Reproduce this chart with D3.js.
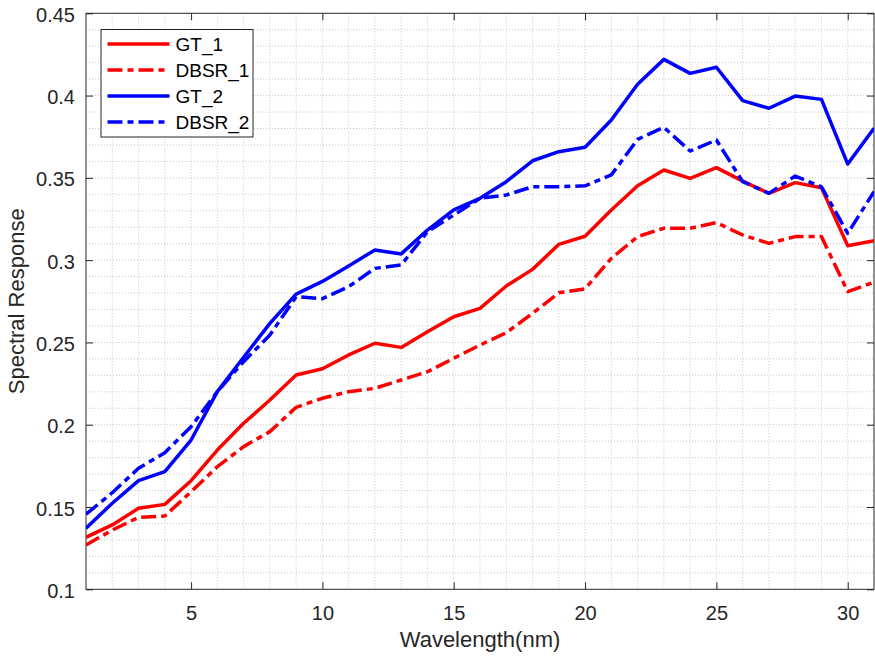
<!DOCTYPE html>
<html>
<head>
<meta charset="utf-8">
<script src="https://cdn.jsdelivr.net/npm/d3@7"></script>
<style>
    body { margin: 0; background: #fff; }
    svg { display: block; font-family: "Liberation Sans", Arial, Helvetica, sans-serif; }
</style>
</head>
<body>
<svg id="chart" width="875" height="656"></svg>
<script>
const wavelength = [1, 2, 3, 4, 5, 6, 7, 8, 9, 10, 11, 12, 13, 14, 15, 16,
    17, 18, 19, 20, 21, 22, 23, 24, 25, 26, 27, 28, 29, 30, 31];

const gt1 = [0.1316, 0.1391, 0.1492, 0.1516, 0.1660, 0.1846, 0.2009, 0.2150, 0.2302, 0.2340,
    0.2424, 0.2495, 0.2470, 0.2565, 0.2656, 0.2707, 0.2843, 0.2944, 0.3096, 0.3145,
    0.3305, 0.3452, 0.3548, 0.3497, 0.3562, 0.3480, 0.3406, 0.3471, 0.3440, 0.3088, 0.3118];

const dbsr1 = [0.1269, 0.1360, 0.1437, 0.1445, 0.1593, 0.1745, 0.1867, 0.1958, 0.2106, 0.2161,
    0.2201, 0.2221, 0.2272, 0.2322, 0.2404, 0.2484, 0.2559, 0.2677, 0.2802, 0.2826,
    0.3011, 0.3143, 0.3194, 0.3194, 0.3228, 0.3153, 0.3102, 0.3143, 0.3143, 0.2809, 0.2866];

const gt2 = [0.1371, 0.1523, 0.1660, 0.1715, 0.1907, 0.2201, 0.2410, 0.2616, 0.2794, 0.2871,
    0.2965, 0.3062, 0.3038, 0.3183, 0.3305, 0.3376, 0.3477, 0.3604, 0.3659, 0.3686,
    0.3852, 0.4069, 0.4220, 0.4135, 0.4172, 0.3969, 0.3923, 0.3997, 0.3977, 0.3584, 0.3801];

const dbsr2 = [0.1456, 0.1587, 0.1735, 0.1830, 0.1988, 0.2201, 0.2383, 0.2545, 0.2778, 0.2766,
    0.2839, 0.2950, 0.2971, 0.3173, 0.3274, 0.3376, 0.3396, 0.3446, 0.3446, 0.3452,
    0.3518, 0.3734, 0.3807, 0.3663, 0.3730, 0.3477, 0.3406, 0.3511, 0.3446, 0.3163, 0.3416];

const seriesNames = ["GT_1", "DBSR_1", "GT_2", "DBSR_2"];
const xTicks = [5, 10, 15, 20, 25, 30];
const yTicks = [0.1, 0.15, 0.2, 0.25, 0.3, 0.35, 0.4, 0.45];
const yTickLabels = ["0.1", "0.15", "0.2", "0.25", "0.3", "0.35", "0.4", "0.45"];

const dashDot = "15,5,6,5";
const series = [
    {name: seriesNames[0], values: gt1, color: "#ff0000", dash: null},
    {name: seriesNames[1], values: dbsr1, color: "#ff0000", dash: dashDot},
    {name: seriesNames[2], values: gt2, color: "#0000ff", dash: null},
    {name: seriesNames[3], values: dbsr2, color: "#0000ff", dash: dashDot}
];

const svg = d3.select("#chart");
const margin = {top: 13.3, right: 1, bottom: 66.7, left: 86},
    width = 875 - margin.left - margin.right,
    height = 656 - margin.top - margin.bottom;

const g = svg.append("g").attr("transform", `translate(${margin.left},${margin.top})`);

const x = d3.scaleLinear().domain([1, 31]).range([0, width]);
const y = d3.scaleLinear().domain([0.1, 0.45]).range([height, 0]);

// dotted grid (major + minor)
const gridColor = "#c8c8c8";
g.append("g")
    .selectAll("line")
    .data(d3.range(2, 31))
    .join("line")
    .attr("x1", d => x(d)).attr("x2", d => x(d))
    .attr("y1", 0).attr("y2", height)
    .attr("stroke", gridColor)
    .attr("stroke-width", 1)
    .attr("stroke-dasharray", "1,2");

g.append("g")
    .selectAll("line")
    .data(d3.range(11, 45).map(d => d / 100))
    .join("line")
    .attr("x1", 0).attr("x2", width)
    .attr("y1", d => y(d)).attr("y2", d => y(d))
    .attr("stroke", gridColor)
    .attr("stroke-width", 1)
    .attr("stroke-dasharray", "1,2");

// axes with inward ticks
const axisColor = "#262626";
const tickLen = 7;

const styleAxis = (sel) => {
    sel.select(".domain").remove();
    sel.selectAll(".tick line").attr("stroke", axisColor);
    sel.selectAll(".tick text")
        .attr("fill", axisColor)
        .style("font-size", "20px");
};

g.append("g")
    .attr("transform", `translate(0,${height})`)
    .call(d3.axisBottom(x).tickValues(xTicks).tickSize(-tickLen).tickPadding(16.5))
    .call(styleAxis);

g.append("g")
    .call(d3.axisTop(x).tickValues(xTicks).tickSize(-tickLen).tickFormat(""))
    .call(styleAxis);

g.append("g")
    .call(d3.axisLeft(y).tickValues(yTicks).tickSize(-tickLen).tickPadding(11)
        .tickFormat((d, i) => yTickLabels[i]))
    .call(styleAxis)
    .selectAll(".tick text").attr("dy", "0.4em");

g.append("g")
    .attr("transform", `translate(${width},0)`)
    .call(d3.axisRight(y).tickValues(yTicks).tickSize(-tickLen).tickFormat(""))
    .call(styleAxis);

g.append("rect")
    .attr("width", width).attr("height", height)
    .attr("fill", "none")
    .attr("stroke", axisColor)
    .attr("stroke-width", 1);

// lines
svg.append("defs").append("clipPath").attr("id", "plot-clip")
    .append("rect").attr("width", width).attr("height", height);

const line = d3.line()
    .x((d, i) => x(wavelength[i]))
    .y(d => y(d));

g.append("g")
    .attr("clip-path", "url(#plot-clip)")
    .selectAll("path")
    .data(series)
    .join("path")
    .attr("d", d => line(d.values))
    .attr("fill", "none")
    .attr("stroke", d => d.color)
    .attr("stroke-width", 3.5)
    .attr("stroke-linejoin", "round")
    .attr("stroke-dasharray", d => d.dash);

// axis labels
svg.append("text")
    .attr("x", margin.left + width / 2)
    .attr("y", 646.5)
    .attr("text-anchor", "middle")
    .attr("fill", axisColor)
    .style("font-size", "22px")
    .text("Wavelength(nm)");

svg.append("text")
    .attr("transform", `translate(24,${margin.top + height / 2}) rotate(-90)`)
    .attr("text-anchor", "middle")
    .attr("fill", axisColor)
    .style("font-size", "22px")
    .text("Spectral Response");

// legend
const legend = svg.append("g").attr("transform", "translate(101,29.5)");
legend.append("rect")
    .attr("width", 152).attr("height", 107.5)
    .attr("fill", "#fff")
    .attr("stroke", "#262626")
    .attr("stroke-width", 1);

const rows = legend.selectAll(".row")
    .data(series)
    .join("g")
    .attr("class", "row")
    .attr("transform", (d, i) => `translate(0,${14.5 + i * 26})`);

rows.append("line")
    .attr("x1", 6.5).attr("x2", 68.5)
    .attr("stroke", d => d.color)
    .attr("stroke-width", 3.5)
    .attr("stroke-dasharray", d => d.dash);

rows.append("text")
    .attr("x", 74.5)
    .attr("dy", "0.36em")
    .attr("fill", "#000")
    .style("font-size", "19px")
    .text(d => d.name);
</script>
</body>
</html>
